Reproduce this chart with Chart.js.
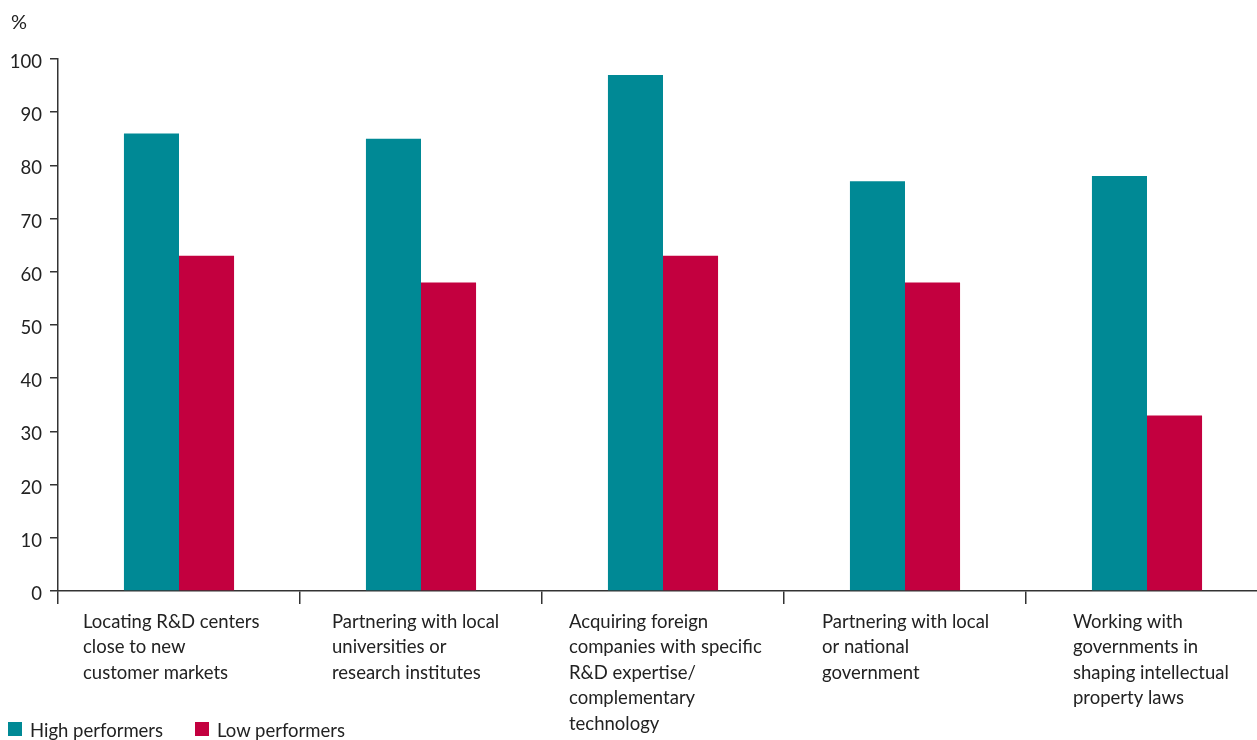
<!DOCTYPE html>
<html>
<head>
<meta charset="utf-8">
<script src="https://cdn.jsdelivr.net/npm/chart.js@4/dist/chart.umd.min.js"></script>
<style>
  html, body { margin: 0; padding: 0; background: #fff; overflow: hidden; width: 1257px; height: 740px; }
  #wrap { position: relative; width: 1257px; height: 740px; overflow: hidden; }
  canvas { position: absolute; left: 0; top: 0; }
  .unit { position: absolute; left: 11px; top: 9px; font: 20px Lato, sans-serif; color: #222; }
  .legend { position: absolute; top: 718px; left: 0; font: 18.5px Lato, sans-serif; color: #222; }
  .legend span.item { position: absolute; white-space: nowrap; line-height: 24px; }
  .legend i { position: absolute; width: 14px; height: 14px; top: 4px; left: -22px; }
</style>
</head>
<body>
<div id="wrap">
  <canvas id="c" width="1280" height="740" style="width:1280px;height:740px"></canvas>
  <div class="unit">%</div>
  <div class="legend" id="legend"></div>
</div>
<script>
const categories = [
  ["Locating R&D centers", "close to new", "customer markets"],
  ["Partnering with local", "universities or", "research institutes"],
  ["Acquiring foreign", "companies with specific", "R&D expertise/", "complementary", "technology"],
  ["Partnering with local", "or national", "government"],
  ["Working with", "governments in", "shaping intellectual", "property laws"]
];
const highPerformers = [86, 85, 97, 77, 78];
const lowPerformers = [63, 58, 63, 58, 33];
const seriesNames = ["High performers", "Low performers"];
const seriesColors = ["#008995", "#C3003F"];
const yTicks = [0, 10, 20, 30, 40, 50, 60, 70, 80, 90, 100];

const FONT = "Lato";
// style: extra horizontal nudge for each category label (px)
const labelNudge = [0, 7, 2, 13, 22];

const nudgePlugin = {
  id: 'labelNudge',
  beforeDraw(chart) {
    const sc = chart.scales.x;
    const items = sc.getLabelItems();
    if (items._nudged) return;
    items.forEach((it, i) => { it.options.translation[0] += (labelNudge[i] || 0); });
    items._nudged = true;
  }
};

const chart = new Chart(document.getElementById('c'), {
  type: 'bar',
  data: {
    labels: categories,
    datasets: [
      { label: seriesNames[0], data: highPerformers, backgroundColor: seriesColors[0] },
      { label: seriesNames[1], data: lowPerformers, backgroundColor: seriesColors[1] }
    ]
  },
  plugins: [nudgePlugin],
  options: {
    responsive: false,
    animation: false,
    devicePixelRatio: 1,
    layout: { padding: { left: 0, top: 59, right: 12, bottom: 0 } },
    datasets: { bar: { categoryPercentage: 0.455, barPercentage: 1.0, borderWidth: 0 } },
    plugins: { legend: { display: false }, title: { display: false }, tooltip: { enabled: false } },
    scales: {
      x: {
        offset: true,
        grid: { offset: true, drawOnChartArea: false, drawTicks: true, tickLength: 13, color: '#333', lineWidth: 1.5 },
        border: { display: true, color: '#333', width: 1.5 },
        ticks: {
          align: 'start',
          labelOffset: -96,
          padding: 5,
          color: '#222',
          font: { family: FONT, size: 18.5, lineHeight: 1.38 },
          maxRotation: 0, minRotation: 0, autoSkip: false
        },
        afterFit: (s) => { s.height = 149; s.paddingLeft = 0; s.paddingRight = 0; }
      },
      y: {
        min: 0, max: 100,
        afterBuildTicks: (s) => { s.ticks = yTicks.map(v => ({ value: v })); },
        grid: { drawOnChartArea: false, drawTicks: true, tickLength: 8, color: '#333', lineWidth: 1.5 },
        border: { display: true, color: '#333', width: 1.5 },
        ticks: { padding: 8, labelOffset: 3, color: '#222', font: { family: FONT, size: 18.5 } },
        afterFit: (s) => { s.width = 58; s.paddingTop = 0; s.paddingBottom = 0; }
      }
    }
  }
});

// HTML legend from the series arrays
const lg = document.getElementById('legend');
const legendX = [30, 217];
seriesNames.forEach((n, i) => {
  const s = document.createElement('span');
  s.className = 'item';
  s.style.left = legendX[i] + 'px';
  s.innerHTML = '<i style="background:' + seriesColors[i] + '"></i>' + n;
  lg.appendChild(s);
});
</script>
</body>
</html>
